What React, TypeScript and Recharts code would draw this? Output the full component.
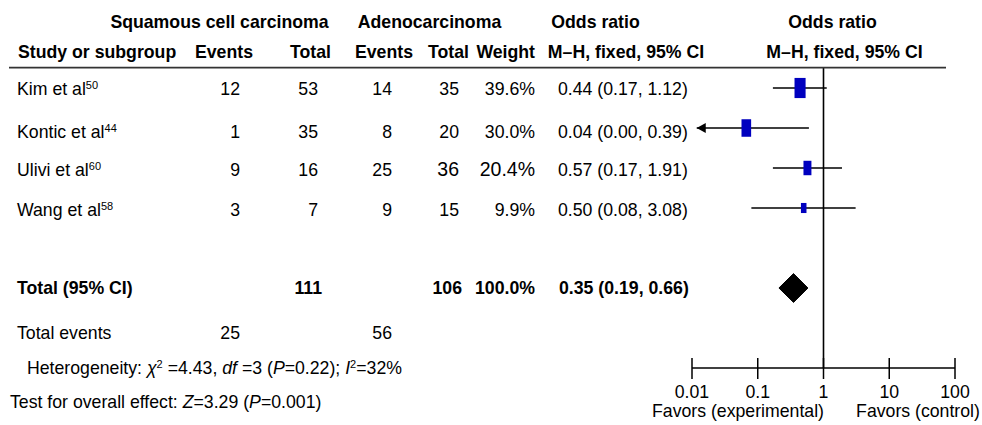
import React from 'react';
import {ReferenceLine, Scatter, ScatterChart, XAxis, YAxis} from 'recharts';

document.body.style.margin = '0';

const studies = ['Kim et al', 'Kontic et al', 'Ulivi et al', 'Wang et al'];
const refs = ['50', '44', '60', '58'];
const sccEvents = [12, 1, 9, 3];
const sccTotal = [53, 35, 16, 7];
const adenoEvents = [14, 8, 25, 9];
const adenoTotal = [35, 20, 36, 15];
const weights = [39.6, 30.0, 20.4, 9.9];
const ciLabels = ['0.44 (0.17, 1.12)', '0.04 (0.00, 0.39)', '0.57 (0.17, 1.91)', '0.50 (0.08, 3.08)'];

// where the marks sit in the figure (Kontic lower limit runs off the axis -> arrow)
const oddsRatio = [0.44, 0.067, 0.57, 0.5];
const ciLow = [0.17, 0.0118, 0.17, 0.08];
const ciHigh = [1.12, 0.6, 1.91, 3.08];
const clipped = [false, true, false, false];

const totalOr = 0.35;
const totalLow = 0.21;
const totalHigh = 0.58;
const totalLabel = '0.35 (0.19, 0.66)';

const axisTicks = [0.01, 0.1, 1, 10, 100];

const FONT = '"Liberation Sans", Arial, Helvetica, sans-serif';
const FS = 17.7;
const BLUE = '#0000BF';

const studyBase = [95, 138, 176, 216];

const boxData = studies.map((s, i) => ({x: oddsRatio[i], y: i + 1, weight: weights[i]}));
const ciData = studies.map((s, i) => [{x: ciLow[i], y: i + 1}, {x: ciHigh[i], y: i + 1}]);
const arrowData = studies.map((s, i) => ({x: ciLow[i], y: i + 1})).filter((d, i) => clipped[i]);
const diamondData = [
    {x: totalLow, y: 6},
    {x: totalOr, y: 6 - 0.36},
    {x: totalHigh, y: 6},
    {x: totalOr, y: 6 + 0.36},
    {x: totalLow, y: 6},
];

const Box = (props: any) => {
    const {cx, cy, payload} = props;
    const h = Math.sqrt(payload.weight) * 3.2;
    const w = h * 0.55;
    return <rect x={cx - w / 2} y={cy - h / 2} width={w} height={h} fill={BLUE}/>;
};

const Arrow = (props: any) => {
    const {cx, cy} = props;
    return <polygon points={`${cx},${cy} ${cx + 9},${cy - 5} ${cx + 9},${cy + 5}`} fill="#000"/>;
};

const Nothing = () => <g/>;

const AxisTick = (props: any) => {
    const {x, y, payload} = props;
    return (
        <g>
            <line x1={x} x2={x} y1={y - 10} y2={y + 11} stroke="#000" strokeWidth={1.5}/>
            <text x={x} y={y + 30} textAnchor="middle" fontSize={FS} fontFamily={FONT} fill="#000">
                {String(payload.value)}
            </text>
        </g>
    );
};

const T = ({x, y, anchor = 'start', bold = false, size = FS, children}: any) => (
    <text x={x} y={y} textAnchor={anchor} fontWeight={bold ? 'bold' : 'normal'} fontSize={size}
          fontFamily={FONT} fill="#000">
        {children}
    </text>
);

const Sup = ({children}: any) => (
    <tspan baselineShift="super" fontSize={11}>{children}</tspan>
);

const TableText = () => (
    <svg width={982} height={425} style={{position: 'absolute', left: 0, top: 0, pointerEvents: 'none'}}>
        {/* header */}
        <T x={219.5} y={27.5} anchor="middle" bold>Squamous cell carcinoma</T>
        <T x={429.5} y={27.5} anchor="middle" bold>Adenocarcinoma</T>
        <T x={595.5} y={27.5} anchor="middle" bold>Odds ratio</T>
        <T x={832.5} y={27.5} anchor="middle" bold>Odds ratio</T>
        <T x={18} y={58} bold>Study or subgroup</T>
        <T x={224} y={58} anchor="middle" bold>Events</T>
        <T x={331} y={58} anchor="end" bold>Total</T>
        <T x={384} y={58} anchor="middle" bold>Events</T>
        <T x={428} y={58} bold>Total</T>
        <T x={535} y={58} anchor="end" bold>Weight</T>
        <T x={626} y={58} anchor="middle" bold>M–H, fixed, 95% CI</T>
        <T x={844.5} y={58} anchor="middle" bold>M–H, fixed, 95% CI</T>
        <line x1={9} x2={946} y1={67.7} y2={67.7} stroke="#333" strokeWidth={1.8}/>

        {/* studies */}
        {studies.map((s, i) => {
            const big = i === 2 ? 19.5 : FS;
            return (
                <g key={s}>
                    <T x={17} y={studyBase[i]}>{s}<Sup>{refs[i]}</Sup></T>
                    <T x={240} y={studyBase[i]} anchor="end">{sccEvents[i]}</T>
                    <T x={318} y={studyBase[i]} anchor="end">{sccTotal[i]}</T>
                    <T x={392} y={studyBase[i]} anchor="end">{adenoEvents[i]}</T>
                    <T x={459} y={studyBase[i]} anchor="end" size={big}>{adenoTotal[i]}</T>
                    <T x={535} y={studyBase[i]} anchor="end" size={big}>{weights[i].toFixed(1)}%</T>
                    <T x={558} y={studyBase[i]}>{ciLabels[i]}</T>
                </g>
            );
        })}

        {/* totals */}
        <T x={17} y={294} bold>Total (95% CI)</T>
        <T x={322} y={294} anchor="end" bold>{sccTotal.reduce((a, b) => a + b, 0)}</T>
        <T x={462} y={294} anchor="end" bold>{adenoTotal.reduce((a, b) => a + b, 0)}</T>
        <T x={535} y={294} anchor="end" bold>100.0%</T>
        <T x={559} y={294} bold>{totalLabel}</T>

        <T x={17} y={339}>Total events</T>
        <T x={240} y={339} anchor="end">{sccEvents.reduce((a, b) => a + b, 0)}</T>
        <T x={392} y={339} anchor="end">{adenoEvents.reduce((a, b) => a + b, 0)}</T>

        <T x={27} y={374}>
            Heterogeneity: <tspan fontStyle="italic">χ</tspan><Sup>2</Sup> =4.43, <tspan fontStyle="italic">df</tspan> =3
            (<tspan fontStyle="italic">P</tspan>=0.22); <tspan fontStyle="italic">I</tspan><Sup>2</Sup>=32%
        </T>
        <T x={10} y={408}>
            Test for overall effect: <tspan fontStyle="italic">Z</tspan>=3.29 (<tspan fontStyle="italic">P</tspan>=0.001)
        </T>

        <T x={738} y={417} anchor="middle">Favors (experimental)</T>
        <T x={918} y={417} anchor="middle">Favors (control)</T>
    </svg>
);

export default function App() {
    return (
        <div style={{position: 'relative', width: 982, height: 425, background: '#fff'}}>
            <ScatterChart width={982} height={425} margin={{top: 48, right: 27, bottom: 27, left: 692}}>
                <XAxis type="number" dataKey="x" scale="log" domain={[0.01, 100]} ticks={axisTicks}
                       allowDataOverflow interval={0} height={30} tickSize={0} tickMargin={0}
                       tickLine={false} tick={<AxisTick/>} axisLine={{stroke: '#000', strokeWidth: 1.5}}/>
                <YAxis type="number" dataKey="y" domain={[0, 8]} reversed hide allowDataOverflow/>
                <ReferenceLine segment={[{x: 1, y: 0.49}, {x: 1, y: 8}]} stroke="#000" strokeWidth={1.6}
                               ifOverflow="visible"/>
                {ciData.map((d, i) => (
                    <Scatter key={i} data={d} line={{stroke: '#000', strokeWidth: 1.4}} shape={Nothing}
                             isAnimationActive={false}/>
                ))}
                <Scatter data={arrowData} shape={Arrow} isAnimationActive={false}/>
                <Scatter data={boxData} shape={Box} isAnimationActive={false}/>
                <Scatter data={diamondData} line={{stroke: '#000', fill: '#000', strokeWidth: 1}} shape={Nothing}
                         isAnimationActive={false}/>
            </ScatterChart>
            <TableText/>
        </div>
    );
}
